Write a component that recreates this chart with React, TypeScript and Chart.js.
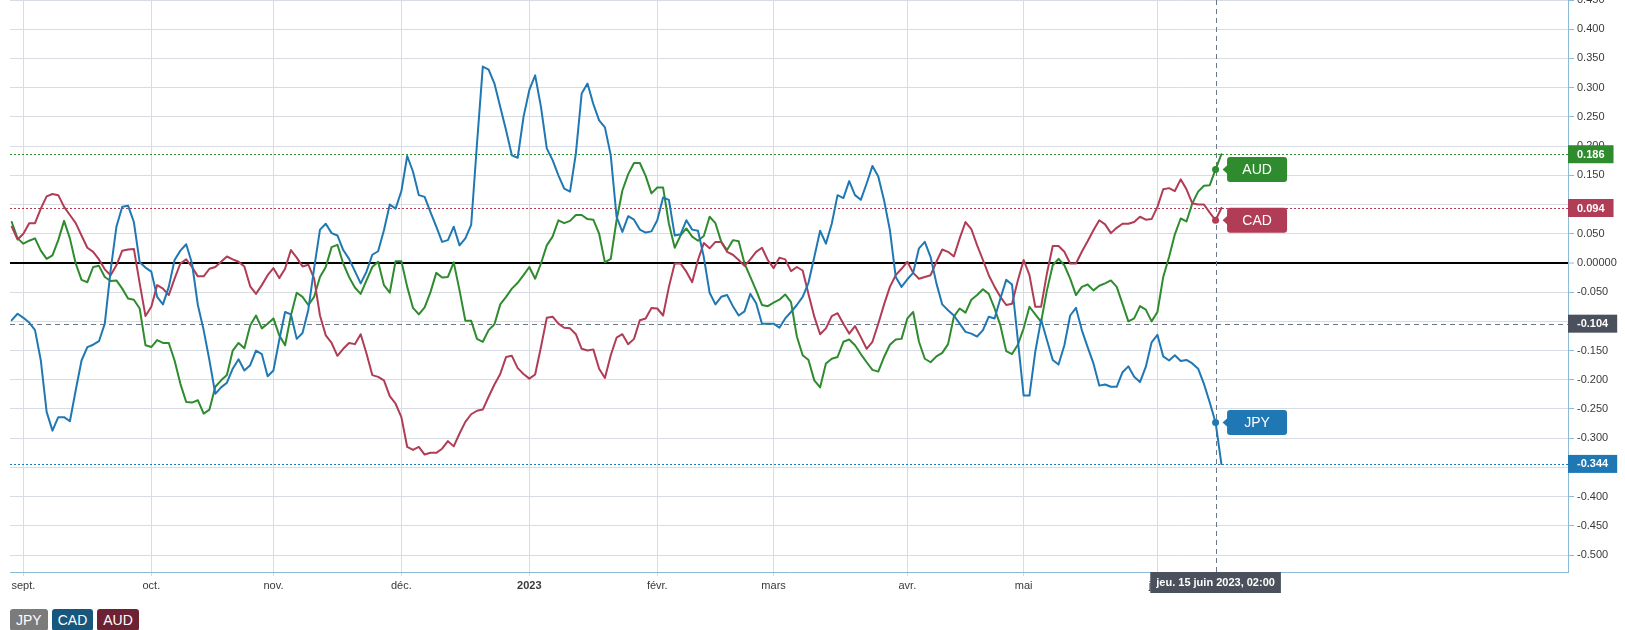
import { useEffect, useRef } from "react"
import { Chart, registerables } from "chart.js"

Chart.register(...registerables)

// one value per trading day, 30 août 2022 -> 16 juin 2023
const jpy = [
  -0.098, -0.087, -0.094, -0.102, -0.115, -0.167, -0.255, -0.287, -0.264, -0.264,
  -0.271, -0.218, -0.167, -0.144, -0.14, -0.134, -0.104, -0.013, 0.062, 0.096,
  0.098, 0.07, 0.001, -0.008, -0.015, -0.058, -0.071, -0.041, 0.005, 0.021,
  0.032, -0.001, -0.072, -0.115, -0.167, -0.224, -0.213, -0.205, -0.181, -0.165,
  -0.184, -0.175, -0.15, -0.156, -0.194, -0.184, -0.132, -0.084, -0.088, -0.13,
  -0.12, -0.08, -0.009, 0.057, 0.067, 0.051, 0.047, 0.022, 0.007, -0.014,
  -0.035, -0.015, 0.014, 0.02, 0.056, 0.1, 0.093, 0.123, 0.183, 0.156,
  0.116, 0.113, 0.087, 0.062, 0.036, 0.039, 0.062, 0.03, 0.042, 0.065,
  0.204, 0.336, 0.331, 0.307, 0.267, 0.227, 0.184, 0.18, 0.25, 0.296,
  0.321, 0.267, 0.196, 0.176, 0.15, 0.127, 0.122, 0.187, 0.29, 0.307,
  0.272, 0.244, 0.232, 0.184, 0.079, 0.053, 0.08, 0.074, 0.057, 0.052,
  0.054, 0.073, 0.112, 0.108, 0.047, 0.049, 0.073, 0.057, 0.055, 0.01,
  -0.051, -0.071, -0.058, -0.055, -0.074, -0.09, -0.083, -0.053, -0.069, -0.104,
  -0.104, -0.104, -0.111, -0.095, -0.084, -0.072, -0.058, -0.034, 0.01, 0.055,
  0.033, 0.067, 0.116, 0.111, 0.14, 0.116, 0.108, 0.136, 0.166, 0.148,
  0.107, 0.056, -0.024, -0.041, -0.028, -0.017, 0.025, 0.036, 0.01, -0.035,
  -0.071, -0.081, -0.09, -0.104, -0.118, -0.121, -0.126, -0.115, -0.092, -0.095,
  -0.061, -0.029, -0.037, -0.132, -0.227, -0.227, -0.152, -0.097, -0.132, -0.166,
  -0.174, -0.141, -0.09, -0.077, -0.115, -0.144, -0.172, -0.21, -0.208, -0.212,
  -0.212, -0.187, -0.177, -0.195, -0.204, -0.178, -0.136, -0.123, -0.16, -0.167,
  -0.158, -0.168, -0.166, -0.172, -0.181, -0.207, -0.239, -0.273, -0.344,
]

const cad = [
  0.062, 0.04, 0.05, 0.068, 0.068, 0.093, 0.114, 0.118, 0.116, 0.096,
  0.082, 0.068, 0.047, 0.026, 0.019, 0.006, -0.011, -0.021, -0.004, 0.021,
  0.023, 0.024, -0.035, -0.091, -0.075, -0.038, -0.044, -0.055, -0.027, -0.001,
  0.006, -0.007, -0.023, -0.023, -0.01, -0.007, 0.002, 0.011, 0.006, 0.002,
  -0.006, -0.04, -0.053, -0.038, -0.021, -0.009, -0.026, -0.01, 0.022, 0.009,
  -0.006, -0.003, -0.027, -0.09, -0.124, -0.137, -0.159, -0.147, -0.137, -0.139,
  -0.122, -0.155, -0.192, -0.195, -0.201, -0.228, -0.241, -0.264, -0.315, -0.32,
  -0.315, -0.328, -0.325, -0.325, -0.318, -0.305, -0.314, -0.292, -0.272, -0.259,
  -0.253, -0.251, -0.229, -0.208, -0.19, -0.161, -0.159, -0.18, -0.19, -0.198,
  -0.191, -0.144, -0.094, -0.092, -0.104, -0.111, -0.112, -0.122, -0.147, -0.15,
  -0.148, -0.181, -0.197, -0.158, -0.128, -0.122, -0.139, -0.13, -0.098, -0.095,
  -0.077, -0.078, -0.09, -0.041, -0.001, -0.001, -0.015, -0.033, 0.005, 0.034,
  0.025, 0.036, 0.036, 0.019, 0.014, 0.005, -0.005, 0.006, 0.019, 0.026,
  0.005, -0.009, 0.009, 0.006, -0.014, -0.007, -0.013, -0.053, -0.092, -0.122,
  -0.112, -0.091, -0.086, -0.104, -0.121, -0.108, -0.127, -0.147, -0.135, -0.104,
  -0.071, -0.041, -0.021, -0.01, 0.002, -0.017, -0.027, -0.024, -0.021, 0.002,
  0.023, 0.019, 0.011, 0.042, 0.07, 0.058, 0.03, 0.005, -0.021, -0.041,
  -0.058, -0.072, -0.07, -0.03, 0.005, -0.021, -0.075, -0.075, -0.018, 0.029,
  0.029, 0.019, -0.001, -0.001, 0.019, 0.037, 0.056, 0.073, 0.066, 0.051,
  0.06, 0.067, 0.067, 0.07, 0.079, 0.074, 0.075, 0.096, 0.126, 0.128,
  0.123, 0.143, 0.126, 0.102, 0.1, 0.1, 0.086, 0.073, 0.094,
]

const aud = [
  0.07, 0.042, 0.033, 0.038, 0.042, 0.021, 0.007, 0.013, 0.039, 0.072,
  0.042, -0.001, -0.029, -0.033, -0.007, -0.005, -0.024, -0.031, -0.03, -0.044,
  -0.061, -0.063, -0.078, -0.141, -0.144, -0.132, -0.137, -0.137, -0.167, -0.207,
  -0.238, -0.239, -0.235, -0.258, -0.251, -0.212, -0.201, -0.192, -0.15, -0.137,
  -0.146, -0.107, -0.09, -0.112, -0.104, -0.095, -0.124, -0.141, -0.09, -0.051,
  -0.058, -0.072, -0.058, -0.024, -0.007, 0.027, 0.031, -0.001, -0.024, -0.042,
  -0.053, -0.03, -0.007, 0.002, -0.038, -0.051, 0.003, 0.003, -0.041, -0.077,
  -0.088, -0.076, -0.05, -0.017, -0.025, -0.024, 0.001, -0.047, -0.099, -0.099,
  -0.13, -0.135, -0.115, -0.105, -0.071, -0.058, -0.044, -0.034, -0.021, -0.007,
  -0.027, -0.001, 0.03, 0.045, 0.073, 0.068, 0.072, 0.082, 0.082, 0.075,
  0.074, 0.05, 0.001, 0.007, 0.073, 0.124, 0.152, 0.171, 0.171, 0.149,
  0.119, 0.129, 0.129, 0.067, 0.026, 0.047, 0.059, 0.045, 0.038, 0.046,
  0.079, 0.068, 0.036, 0.022, 0.039, 0.037, -0.001, -0.024, -0.047, -0.072,
  -0.074, -0.068, -0.063, -0.054, -0.067, -0.126, -0.158, -0.166, -0.201, -0.213,
  -0.172, -0.164, -0.161, -0.135, -0.131, -0.141, -0.156, -0.17, -0.183, -0.186,
  -0.161, -0.14, -0.131, -0.13, -0.095, -0.084, -0.135, -0.164, -0.17, -0.16,
  -0.154, -0.139, -0.092, -0.078, -0.085, -0.063, -0.055, -0.045, -0.053, -0.078,
  -0.107, -0.151, -0.156, -0.14, -0.112, -0.075, -0.088, -0.101, -0.047, -0.004,
  0.007, -0.004, -0.027, -0.055, -0.041, -0.037, -0.047, -0.039, -0.035, -0.03,
  -0.041, -0.07, -0.1, -0.095, -0.074, -0.08, -0.1, -0.084, -0.024, 0.01,
  0.049, 0.076, 0.071, 0.102, 0.122, 0.132, 0.133, 0.16, 0.186,
]

// trading-day index of the first session of each month
const monthIdx = [2, 24, 45, 67, 89, 111, 131, 154, 174, 197]
const monthLabels = ["sept.", "oct.", "nov.", "déc.", "2023", "févr.", "mars", "avr.", "mai", "juin"]

const crossIdx = 207
const crossValue = -0.104
const crossLabel = "jeu. 15 juin 2023, 02:00"

const series = [
  { name: "JPY", data: jpy, color: "#1f78b4", legend: "#7b7b7b" },
  { name: "CAD", data: cad, color: "#b03c55", legend: "#18577d" },
  { name: "AUD", data: aud, color: "#2e8b2e", legend: "#6c2233" },
]

const FONT = "'Liberation Sans', Arial, sans-serif"

const overlay = {
  id: "overlay",
  beforeDatasetsDraw(chart: any) {
    const { ctx, chartArea: a, scales } = chart
    const x = scales.x
    const y = scales.y
    const line = (x1: number, y1: number, x2: number, y2: number) => {
      ctx.beginPath()
      ctx.moveTo(x1, y1)
      ctx.lineTo(x2, y2)
      ctx.stroke()
    }
    ctx.save()
    ctx.lineWidth = 1
    ctx.setLineDash([2, 2])
    series.forEach((s) => {
      const py = Math.round(y.getPixelForValue(s.data[s.data.length - 1])) + 0.5
      ctx.strokeStyle = s.color
      line(a.left, py, a.right, py)
    })
    ctx.strokeStyle = "#6b7684"
    ctx.setLineDash([5, 4])
    const cx = Math.round(x.getPixelForValue(crossIdx)) + 0.5
    line(cx, a.top, cx, a.bottom)
    const cy = Math.round(y.getPixelForValue(crossValue)) + 0.5
    line(a.left, cy, a.right, cy)
    ctx.restore()
  },
  afterDraw(chart: any) {
    const { ctx, chartArea: a, scales } = chart
    const x = scales.x
    const y = scales.y
    ctx.save()
    ctx.font = `bold 11px ${FONT}`
    ctx.textBaseline = "middle"

    // value boxes on the y axis
    const valueBox = (v: number, color: string) => {
      const py = y.getPixelForValue(v)
      const t = v.toFixed(3)
      const w = ctx.measureText(t).width + 18
      ctx.fillStyle = color
      ctx.fillRect(a.right, py - 9, w, 18)
      ctx.fillStyle = "#fff"
      ctx.textAlign = "left"
      ctx.fillText(t, a.right + 9, py + 0.5)
    }
    series.forEach((s) => valueBox(s.data[s.data.length - 1], s.color))
    valueBox(crossValue, "#4b515c")

    // date box on the x axis
    const cx = x.getPixelForValue(crossIdx)
    const tw = ctx.measureText(crossLabel).width + 12
    ctx.fillStyle = "#4b515c"
    ctx.fillRect(cx - tw / 2, a.bottom, tw, 21)
    ctx.fillStyle = "#fff"
    ctx.textAlign = "center"
    ctx.fillText(crossLabel, cx, a.bottom + 11)

    // series name tags next to the hovered points
    ctx.font = `14px ${FONT}`
    series.forEach((s) => {
      const px = x.getPixelForValue(crossIdx)
      const py = y.getPixelForValue(s.data[crossIdx])
      const left = px + 11.5
      ctx.fillStyle = s.color
      ctx.beginPath()
      ctx.roundRect(left, py - 12.5, 60, 25, 3)
      ctx.fill()
      ctx.beginPath()
      ctx.moveTo(px + 7, py)
      ctx.lineTo(left + 1, py - 5)
      ctx.lineTo(left + 1, py + 5)
      ctx.closePath()
      ctx.fill()
      ctx.fillStyle = "#fff"
      ctx.fillText(s.name, left + 30, py + 0.5)
    })
    ctx.restore()
  },
}

export default function App() {
  const chartRef = useRef<HTMLCanvasElement>(null)
  const chartInstance = useRef<Chart | null>(null)

  useEffect(() => {
    document.body.style.margin = "0"
    if (!chartRef.current) return
    if (chartInstance.current) chartInstance.current.destroy()
    const ctx = chartRef.current.getContext("2d")
    if (!ctx) return

    chartInstance.current = new Chart(ctx, {
      type: "line",
      data: {
        datasets: series.map((s) => ({
          label: s.name,
          data: s.data.map((v, i) => ({ x: i, y: v })),
          borderColor: s.color,
          backgroundColor: s.color,
          borderWidth: 2,
          borderJoinStyle: "round" as const,
          borderCapStyle: "round" as const,
          tension: 0,
          pointRadius: (c: any) => (c.dataIndex === crossIdx ? 3.5 : 0),
          pointBorderWidth: 0,
          pointBackgroundColor: s.color,
        })),
      },
      options: {
        animation: false,
        responsive: false,
        maintainAspectRatio: false,
        layout: { padding: { left: 10, top: 0, right: 0, bottom: 0 } },
        plugins: {
          legend: { display: false },
          tooltip: { enabled: false },
        },
        scales: {
          x: {
            type: "linear",
            min: -0.3,
            max: 267.6,
            afterBuildTicks: (s: any) => {
              s.ticks = monthIdx.map((v) => ({ value: v }))
            },
            afterFit: (s: any) => {
              s.height = 58
              s.paddingLeft = 0
              s.paddingRight = 0
            },
            ticks: {
              autoSkip: false,
              maxRotation: 0,
              padding: 3,
              color: "#3a3a3a",
              font: (c: any) => ({
                family: FONT,
                size: 11,
                weight: c.tick && c.tick.value === 89 ? "bold" : "normal",
              }),
              callback: (v: any) => monthLabels[monthIdx.indexOf(v)],
            },
            grid: { color: "#d8dde3", tickLength: 4, tickColor: "#d8dde3" },
            border: { color: "#8dbcdb" },
          },
          y: {
            position: "right",
            min: -0.529,
            max: 0.45,
            afterFit: (s: any) => {
              s.width = 57
              s.paddingTop = 0
              s.paddingBottom = 0
            },
            ticks: {
              stepSize: 0.05,
              includeBounds: false,
              padding: 3,
              color: "#3a3a3a",
              font: { family: FONT, size: 11 },
              callback: (v: any) => (Math.abs(v) < 1e-9 ? "0.00000" : Number(v).toFixed(3)),
            },
            grid: {
              color: (c: any) => (c.tick && Math.abs(c.tick.value) < 1e-9 ? "#000" : "#d8dde3"),
              lineWidth: (c: any) => (c.tick && Math.abs(c.tick.value) < 1e-9 ? 2 : 1),
              tickLength: 6,
              tickColor: "#8dbcdb",
              tickWidth: 1,
            },
            border: { color: "#8dbcdb" },
          },
        },
      },
      plugins: [overlay],
    })

    return () => {
      if (chartInstance.current) {
        chartInstance.current.destroy()
        chartInstance.current = null
      }
    }
  }, [])

  return (
    <div style={{ position: "relative", width: 1625, height: 630, overflow: "hidden" }}>
      <canvas ref={chartRef} width={1625} height={630} style={{ display: "block" }} />
      <div style={{ position: "absolute", left: 10, top: 609, display: "flex", gap: 4 }}>
        {series.map((s) => (
          <span
            key={s.name}
            style={{
              background: s.legend,
              color: "#fff",
              font: `14px ${FONT}`,
              height: 22,
              lineHeight: "22px",
              padding: "0 6px",
              borderRadius: 3,
            }}
          >
            {s.name}
          </span>
        ))}
      </div>
    </div>
  )
}
